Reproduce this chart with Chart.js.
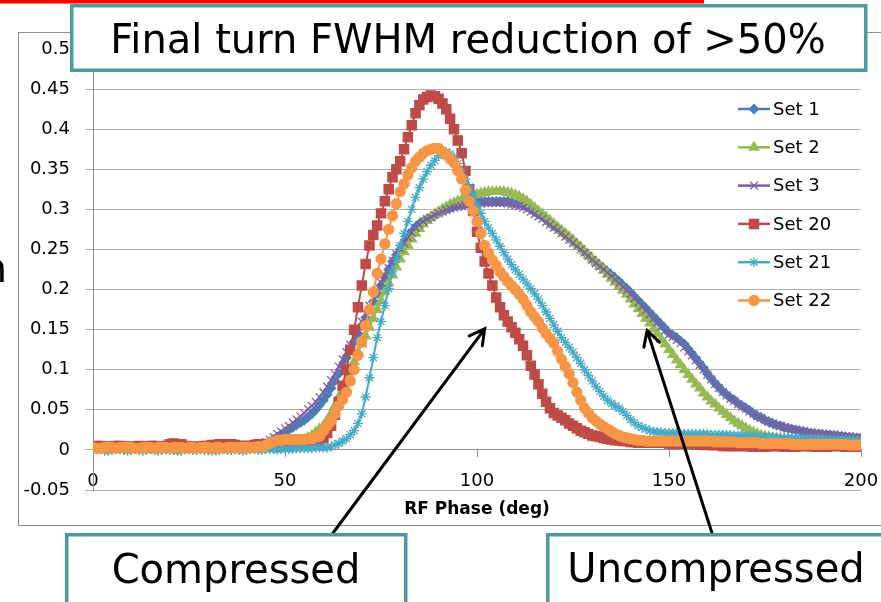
<!DOCTYPE html>
<html>
<head>
<meta charset="utf-8">
<title>RF Phase</title>
<script src="https://cdn.jsdelivr.net/npm/chart.js"></script>
<style>
  html, body { margin: 0; padding: 0; background: #fff; }
  canvas { display: block; }
</style>
</head>
<body>
<canvas id="phase__chart" width="881" height="602"></canvas>
<script>
// RF phase in degrees, one sample per degree
const phase = [
  0, 1, 2, 3, 4, 5, 6, 7, 8, 9,
  10, 11, 12, 13, 14, 15, 16, 17, 18, 19,
  20, 21, 22, 23, 24, 25, 26, 27, 28, 29,
  30, 31, 32, 33, 34, 35, 36, 37, 38, 39,
  40, 41, 42, 43, 44, 45, 46, 47, 48, 49,
  50, 51, 52, 53, 54, 55, 56, 57, 58, 59,
  60, 61, 62, 63, 64, 65, 66, 67, 68, 69,
  70, 71, 72, 73, 74, 75, 76, 77, 78, 79,
  80, 81, 82, 83, 84, 85, 86, 87, 88, 89,
  90, 91, 92, 93, 94, 95, 96, 97, 98, 99,
  100, 101, 102, 103, 104, 105, 106, 107, 108, 109,
  110, 111, 112, 113, 114, 115, 116, 117, 118, 119,
  120, 121, 122, 123, 124, 125, 126, 127, 128, 129,
  130, 131, 132, 133, 134, 135, 136, 137, 138, 139,
  140, 141, 142, 143, 144, 145, 146, 147, 148, 149,
  150, 151, 152, 153, 154, 155, 156, 157, 158, 159,
  160, 161, 162, 163, 164, 165, 166, 167, 168, 169,
  170, 171, 172, 173, 174, 175, 176, 177, 178, 179,
  180, 181, 182, 183, 184, 185, 186, 187, 188, 189,
  190, 191, 192, 193, 194, 195, 196, 197, 198, 199,
  200
]

const set1 = [
  0.002, 0.003, 0.003, 0.002, 0.001, 0.002, 0.003, 0.002, 0.002, 0.003,
  0.002, 0.002, 0.001, 0.002, 0.003, 0.002, 0.002, 0.003, 0.002, 0.002,
  0.002, 0.002, 0.001, 0.002, 0.003, 0.002, 0.002, 0.002, 0.003, 0.002,
  0.003, 0.002, 0.001, 0.002, 0.002, 0.003, 0.002, 0.002, 0.003, 0.003,
  0.003, 0.003, 0.004, 0.005, 0.006, 0.008, 0.010, 0.013, 0.016, 0.019,
  0.022, 0.025, 0.028, 0.031, 0.034, 0.037, 0.041, 0.045, 0.050, 0.056,
  0.062, 0.069, 0.077, 0.086, 0.095, 0.105, 0.115, 0.125, 0.135, 0.145,
  0.155, 0.165, 0.175, 0.185, 0.195, 0.205, 0.215, 0.225, 0.235, 0.243,
  0.250, 0.258, 0.265, 0.272, 0.278, 0.282, 0.285, 0.288, 0.290, 0.293,
  0.296, 0.298, 0.300, 0.302, 0.304, 0.305, 0.306, 0.307, 0.308, 0.309,
  0.309, 0.310, 0.310, 0.310, 0.310, 0.310, 0.310, 0.310, 0.310, 0.309,
  0.308, 0.307, 0.305, 0.303, 0.300, 0.297, 0.294, 0.291, 0.287, 0.283,
  0.279, 0.276, 0.272, 0.268, 0.264, 0.260, 0.256, 0.252, 0.247, 0.243,
  0.238, 0.234, 0.230, 0.226, 0.222, 0.218, 0.214, 0.210, 0.205, 0.201,
  0.196, 0.191, 0.186, 0.181, 0.176, 0.171, 0.166, 0.161, 0.156, 0.151,
  0.146, 0.143, 0.140, 0.136, 0.132, 0.126, 0.120, 0.114, 0.108, 0.102,
  0.095, 0.089, 0.083, 0.078, 0.073, 0.069, 0.065, 0.062, 0.058, 0.055,
  0.052, 0.049, 0.045, 0.042, 0.040, 0.037, 0.035, 0.033, 0.031, 0.030,
  0.028, 0.027, 0.026, 0.025, 0.024, 0.023, 0.022, 0.021, 0.020, 0.020,
  0.019, 0.019, 0.018, 0.018, 0.017, 0.017, 0.016, 0.016, 0.015, 0.015,
  0.014
]

const set2 = [
  0.002, 0.001, 0.002, 0.002, 0.001, 0.002, 0.002, 0.001, 0.002, 0.002,
  0.001, 0.002, 0.002, 0.001, 0.002, 0.002, 0.001, 0.002, 0.002, 0.001,
  0.001, 0.002, 0.002, 0.001, 0.002, 0.002, 0.001, 0.002, 0.002, 0.001,
  0.002, 0.002, 0.001, 0.002, 0.002, 0.001, 0.002, 0.002, 0.001, 0.001,
  0.002, 0.002, 0.002, 0.002, 0.003, 0.003, 0.003, 0.003, 0.004, 0.004,
  0.005, 0.006, 0.007, 0.008, 0.010, 0.012, 0.015, 0.018, 0.022, 0.026,
  0.030, 0.037, 0.045, 0.055, 0.066, 0.077, 0.088, 0.099, 0.110, 0.121,
  0.132, 0.142, 0.153, 0.164, 0.175, 0.186, 0.197, 0.208, 0.218, 0.228,
  0.238, 0.247, 0.255, 0.263, 0.270, 0.276, 0.282, 0.286, 0.290, 0.294,
  0.297, 0.300, 0.303, 0.306, 0.308, 0.310, 0.312, 0.314, 0.316, 0.318,
  0.319, 0.320, 0.321, 0.322, 0.322, 0.322, 0.322, 0.322, 0.321, 0.320,
  0.318, 0.316, 0.313, 0.310, 0.306, 0.302, 0.298, 0.294, 0.290, 0.286,
  0.282, 0.278, 0.274, 0.270, 0.266, 0.262, 0.257, 0.253, 0.248, 0.243,
  0.238, 0.234, 0.229, 0.224, 0.219, 0.214, 0.209, 0.204, 0.199, 0.194,
  0.188, 0.182, 0.176, 0.170, 0.164, 0.158, 0.151, 0.145, 0.138, 0.132,
  0.125, 0.119, 0.112, 0.106, 0.100, 0.094, 0.088, 0.082, 0.077, 0.071,
  0.066, 0.061, 0.057, 0.052, 0.048, 0.044, 0.040, 0.036, 0.033, 0.030,
  0.027, 0.024, 0.022, 0.020, 0.018, 0.017, 0.016, 0.015, 0.014, 0.014,
  0.013, 0.013, 0.012, 0.012, 0.012, 0.011, 0.011, 0.011, 0.011, 0.011,
  0.011, 0.011, 0.010, 0.010, 0.010, 0.010, 0.010, 0.010, 0.010, 0.010,
  0.010
]

const set3 = [
  0.001, 0.002, 0.002, 0.003, 0.002, 0.002, 0.001, 0.002, 0.003, 0.002,
  0.002, 0.003, 0.002, 0.002, 0.003, 0.002, 0.001, 0.002, 0.001, 0.002,
  0.003, 0.002, 0.002, 0.001, 0.001, 0.002, 0.003, 0.002, 0.002, 0.002,
  0.002, 0.001, 0.001, 0.002, 0.003, 0.003, 0.002, 0.002, 0.002, 0.002,
  0.003, 0.004, 0.005, 0.006, 0.008, 0.010, 0.013, 0.016, 0.020, 0.023,
  0.027, 0.030, 0.034, 0.038, 0.042, 0.046, 0.051, 0.055, 0.060, 0.066,
  0.072, 0.079, 0.087, 0.095, 0.104, 0.113, 0.122, 0.131, 0.141, 0.150,
  0.160, 0.170, 0.180, 0.190, 0.199, 0.209, 0.218, 0.227, 0.236, 0.244,
  0.251, 0.258, 0.265, 0.271, 0.277, 0.281, 0.285, 0.288, 0.290, 0.293,
  0.295, 0.297, 0.299, 0.301, 0.302, 0.303, 0.304, 0.305, 0.306, 0.306,
  0.307, 0.307, 0.308, 0.308, 0.308, 0.308, 0.308, 0.308, 0.307, 0.306,
  0.305, 0.304, 0.302, 0.300, 0.297, 0.294, 0.291, 0.288, 0.284, 0.281,
  0.277, 0.274, 0.270, 0.266, 0.262, 0.258, 0.254, 0.250, 0.246, 0.242,
  0.237, 0.233, 0.229, 0.225, 0.221, 0.217, 0.212, 0.208, 0.203, 0.199,
  0.194, 0.189, 0.184, 0.179, 0.174, 0.169, 0.164, 0.159, 0.154, 0.149,
  0.144, 0.141, 0.137, 0.133, 0.128, 0.123, 0.118, 0.112, 0.106, 0.100,
  0.094, 0.088, 0.082, 0.077, 0.072, 0.068, 0.064, 0.061, 0.057, 0.054,
  0.051, 0.048, 0.045, 0.042, 0.040, 0.037, 0.035, 0.033, 0.031, 0.030,
  0.028, 0.027, 0.026, 0.025, 0.024, 0.023, 0.022, 0.022, 0.021, 0.021,
  0.020, 0.020, 0.019, 0.019, 0.018, 0.018, 0.017, 0.017, 0.016, 0.016,
  0.015
]

const set20 = [
  0.004, 0.005, 0.005, 0.004, 0.004, 0.004, 0.005, 0.005, 0.004, 0.004,
  0.004, 0.004, 0.005, 0.004, 0.004, 0.005, 0.005, 0.004, 0.004, 0.005,
  0.007, 0.008, 0.007, 0.007, 0.005, 0.004, 0.004, 0.004, 0.004, 0.005,
  0.005, 0.006, 0.006, 0.007, 0.007, 0.007, 0.007, 0.006, 0.005, 0.005,
  0.005, 0.005, 0.006, 0.007, 0.007, 0.006, 0.006, 0.005, 0.005, 0.005,
  0.006, 0.006, 0.006, 0.006, 0.007, 0.007, 0.008, 0.008, 0.009, 0.010,
  0.015, 0.021, 0.030, 0.044, 0.060, 0.080, 0.100, 0.125, 0.150, 0.178,
  0.205, 0.232, 0.255, 0.268, 0.280, 0.295, 0.310, 0.325, 0.340, 0.350,
  0.360, 0.375, 0.390, 0.405, 0.420, 0.430, 0.437, 0.440, 0.442, 0.441,
  0.438, 0.432, 0.425, 0.413, 0.400, 0.386, 0.370, 0.348, 0.325, 0.298,
  0.272, 0.252, 0.235, 0.220, 0.205, 0.190, 0.178, 0.168, 0.160, 0.153,
  0.146, 0.138, 0.130, 0.118, 0.105, 0.094, 0.082, 0.070, 0.060, 0.052,
  0.046, 0.043, 0.040, 0.037, 0.033, 0.030, 0.027, 0.024, 0.022, 0.020,
  0.018, 0.017, 0.016, 0.015, 0.014, 0.013, 0.012, 0.012, 0.011, 0.011,
  0.010, 0.010, 0.009, 0.009, 0.009, 0.009, 0.009, 0.009, 0.009, 0.009,
  0.008, 0.008, 0.008, 0.008, 0.008, 0.008, 0.008, 0.007, 0.007, 0.007,
  0.006, 0.006, 0.006, 0.006, 0.005, 0.005, 0.005, 0.005, 0.005, 0.005,
  0.005, 0.005, 0.004, 0.004, 0.004, 0.004, 0.005, 0.005, 0.005, 0.005,
  0.004, 0.004, 0.004, 0.004, 0.005, 0.005, 0.005, 0.005, 0.004, 0.004,
  0.004, 0.004, 0.005, 0.005, 0.005, 0.005, 0.004, 0.004, 0.004, 0.004,
  0.004
]

const set21 = [
  0.000, 0.001, 0.001, -0.001, -0.001, 0.000, 0.001, 0.001, 0.000, -0.001,
  0.000, 0.001, 0.000, -0.001, 0.000, 0.001, 0.000, -0.001, 0.000, 0.001,
  0.000, 0.000, -0.001, -0.001, 0.001, 0.001, 0.000, 0.000, 0.001, 0.000,
  0.000, -0.001, -0.001, 0.000, 0.001, 0.000, 0.000, 0.001, 0.000, -0.001,
  0.000, 0.001, 0.001, 0.000, 0.000, 0.001, 0.001, 0.001, 0.000, 0.001,
  0.001, 0.001, 0.001, 0.002, 0.002, 0.002, 0.002, 0.002, 0.003, 0.003,
  0.003, 0.003, 0.004, 0.006, 0.008, 0.011, 0.014, 0.019, 0.024, 0.033,
  0.045, 0.066, 0.090, 0.115, 0.140, 0.160, 0.180, 0.201, 0.222, 0.238,
  0.255, 0.270, 0.285, 0.300, 0.315, 0.327, 0.338, 0.347, 0.355, 0.361,
  0.367, 0.370, 0.372, 0.369, 0.365, 0.357, 0.348, 0.338, 0.328, 0.317,
  0.305, 0.295, 0.285, 0.277, 0.270, 0.262, 0.254, 0.246, 0.238, 0.231,
  0.225, 0.219, 0.213, 0.207, 0.201, 0.195, 0.188, 0.180, 0.172, 0.164,
  0.156, 0.148, 0.140, 0.134, 0.128, 0.122, 0.115, 0.108, 0.100, 0.093,
  0.086, 0.079, 0.073, 0.067, 0.062, 0.058, 0.055, 0.052, 0.048, 0.043,
  0.038, 0.034, 0.030, 0.028, 0.026, 0.024, 0.023, 0.022, 0.022, 0.021,
  0.021, 0.021, 0.021, 0.020, 0.020, 0.020, 0.020, 0.020, 0.020, 0.020,
  0.020, 0.019, 0.019, 0.019, 0.019, 0.019, 0.018, 0.018, 0.018, 0.018,
  0.018, 0.017, 0.017, 0.017, 0.016, 0.016, 0.016, 0.016, 0.015, 0.015,
  0.015, 0.015, 0.015, 0.015, 0.015, 0.014, 0.014, 0.014, 0.014, 0.014,
  0.014, 0.013, 0.013, 0.013, 0.013, 0.013, 0.013, 0.012, 0.012, 0.012,
  0.012
]

const set22 = [
  0.003, 0.002, 0.002, 0.003, 0.003, 0.003, 0.002, 0.003, 0.003, 0.003,
  0.003, 0.002, 0.002, 0.003, 0.003, 0.003, 0.002, 0.003, 0.003, 0.003,
  0.002, 0.003, 0.003, 0.003, 0.002, 0.003, 0.003, 0.002, 0.003, 0.003,
  0.003, 0.002, 0.003, 0.003, 0.002, 0.003, 0.003, 0.003, 0.003, 0.003,
  0.003, 0.003, 0.003, 0.004, 0.004, 0.006, 0.008, 0.010, 0.012, 0.012,
  0.013, 0.013, 0.013, 0.013, 0.013, 0.013, 0.014, 0.014, 0.016, 0.017,
  0.024, 0.030, 0.036, 0.045, 0.055, 0.063, 0.072, 0.086, 0.100, 0.118,
  0.135, 0.155, 0.175, 0.197, 0.220, 0.238, 0.257, 0.275, 0.292, 0.307,
  0.322, 0.332, 0.343, 0.352, 0.360, 0.365, 0.370, 0.373, 0.375, 0.376,
  0.376, 0.372, 0.368, 0.363, 0.358, 0.348, 0.338, 0.324, 0.310, 0.298,
  0.285, 0.270, 0.255, 0.246, 0.237, 0.230, 0.222, 0.216, 0.210, 0.205,
  0.200, 0.194, 0.188, 0.180, 0.172, 0.166, 0.160, 0.152, 0.145, 0.139,
  0.133, 0.123, 0.113, 0.104, 0.095, 0.084, 0.072, 0.062, 0.052, 0.046,
  0.040, 0.036, 0.032, 0.029, 0.026, 0.023, 0.020, 0.018, 0.016, 0.015,
  0.014, 0.013, 0.012, 0.012, 0.011, 0.011, 0.011, 0.011, 0.011, 0.011,
  0.011, 0.011, 0.011, 0.011, 0.011, 0.011, 0.011, 0.011, 0.011, 0.011,
  0.011, 0.011, 0.010, 0.010, 0.010, 0.010, 0.010, 0.010, 0.009, 0.009,
  0.009, 0.009, 0.009, 0.009, 0.008, 0.008, 0.008, 0.008, 0.008, 0.008,
  0.008, 0.008, 0.007, 0.007, 0.007, 0.007, 0.007, 0.007, 0.007, 0.007,
  0.007, 0.007, 0.007, 0.007, 0.007, 0.007, 0.007, 0.006, 0.006, 0.006,
  0.006
]

const seriesNames = ['Set 1', 'Set 2', 'Set 3', 'Set 20', 'Set 21', 'Set 22']
const xTicks = [0, 50, 100, 150, 200]
const yTicks = [-0.05, 0, 0.05, 0.1, 0.15, 0.2, 0.25, 0.3, 0.35, 0.4, 0.45, 0.5]

const FONT = 'DejaVu Sans'
const TEAL = '#4a9aa0'

Chart.defaults.font.family = FONT
Chart.defaults.color = '#000'

function toPoints(values) {
    return values.map((v, i) => ({ x: phase[i], y: v }))
}

function makeSeries(label, values, color, style, radius, order) {
    return {
        label: label,
        data: toPoints(values),
        borderColor: color,
        borderWidth: 2,
        backgroundColor: color,
        pointStyle: style,
        pointRadius: radius,
        pointBackgroundColor: color,
        pointBorderColor: color,
        pointBorderWidth: 1.3,
        tension: 0,
        order: order // Excel paints the last series on top
    }
}

// frame, slide red bar and the stray letter from the slide text on the left
const slideBackground = {
    id: 'slideBackground',
    beforeDraw(chart) {
        const ctx = chart.ctx
        ctx.save()
        ctx.fillStyle = '#fff'
        ctx.fillRect(0, 0, chart.width, chart.height)
        ctx.fillStyle = '#ff0000'
        ctx.fillRect(0, 0, 704, 3.5)
        ctx.strokeStyle = '#8c8c8c'
        ctx.lineWidth = 1
        ctx.strokeRect(18.5, 32.5, 900, 493)
        ctx.fillStyle = '#000'
        ctx.font = '40px ' + FONT
        ctx.textAlign = 'right'
        ctx.textBaseline = 'alphabetic'
        ctx.fillText('n', 7, 282)
        ctx.restore()
    }
}

// legend inside the plot, a line with the marker in the middle
const insideLegend = {
    id: 'insideLegend',
    afterDatasetsDraw(chart) {
        const ctx = chart.ctx
        const x0 = chart.chartArea.right - 123
        chart.data.datasets.forEach((ds, i) => {
            const y = 109 + i * 38.3
            ctx.save()
            ctx.strokeStyle = ds.borderColor
            ctx.lineWidth = 2.5
            ctx.beginPath()
            ctx.moveTo(x0, y)
            ctx.lineTo(x0 + 32, y)
            ctx.stroke()
            ctx.fillStyle = ds.pointBackgroundColor
            ctx.strokeStyle = ds.pointBorderColor
            ctx.lineWidth = ds.pointBorderWidth
            Chart.helpers.drawPoint(ctx, {
                pointStyle: ds.pointStyle,
                radius: ds.pointRadius,
                rotation: 0,
                borderWidth: ds.pointBorderWidth
            }, x0 + 16, y)
            ctx.fillStyle = '#000'
            ctx.font = '18px ' + FONT
            ctx.textAlign = 'left'
            ctx.textBaseline = 'middle'
            ctx.fillText(ds.label, x0 + 35, y + 1)
            ctx.restore()
        })
    }
}

function drawCallout(ctx, x, y, w, h, text, tx, ty) {
    ctx.fillStyle = '#fff'
    ctx.fillRect(x, y, w, h)
    ctx.strokeStyle = TEAL
    ctx.lineWidth = 3.5
    ctx.strokeRect(x, y, w, h)
    ctx.fillStyle = '#000'
    ctx.font = '40px ' + FONT
    ctx.textAlign = 'center'
    ctx.textBaseline = 'alphabetic'
    ctx.fillText(text, tx, ty)
}

function drawArrow(ctx, fx, fy, tx, ty) {
    const ang = Math.atan2(ty - fy, tx - fx)
    const head = 17
    ctx.strokeStyle = '#000'
    ctx.lineWidth = 3
    ctx.lineCap = 'round'
    ctx.beginPath()
    ctx.moveTo(fx, fy)
    ctx.lineTo(tx, ty)
    ctx.moveTo(tx - head * Math.cos(ang - 0.5), ty - head * Math.sin(ang - 0.5))
    ctx.lineTo(tx, ty)
    ctx.lineTo(tx - head * Math.cos(ang + 0.5), ty - head * Math.sin(ang + 0.5))
    ctx.stroke()
}

// axis title, arrows and the text boxes over the chart
const annotations = {
    id: 'annotations',
    afterDraw(chart) {
        const ctx = chart.ctx
        const xs = chart.scales.x
        const ys = chart.scales.y
        const area = chart.chartArea
        ctx.save()
        ctx.fillStyle = '#000'
        ctx.font = 'bold 17px ' + FONT
        ctx.textAlign = 'center'
        ctx.textBaseline = 'middle'
        ctx.fillText('RF Phase (deg)', (area.left + area.right) / 2, ys.getPixelForValue(-0.05) + 20)

        drawArrow(ctx, 333, 533, xs.getPixelForValue(102), ys.getPixelForValue(0.151))
        drawArrow(ctx, 712, 533, xs.getPixelForValue(144.3), ys.getPixelForValue(0.149))

        drawCallout(ctx, 71.75, 5.75, 794, 64.5, 'Final turn FWHM reduction of >50%', 468, 53)
        drawCallout(ctx, 66.75, 534.75, 339, 100, 'Compressed', 236, 583)
        drawCallout(ctx, 547.75, 534.75, 400, 100, 'Uncompressed', 716, 582)
        ctx.restore()
    }
}

const chartEl = document.getElementById('phase__chart')

new Chart(chartEl, {
    type: 'line',
    data: {
        datasets: [
            makeSeries(seriesNames[0], set1, '#4a7ebb', 'rectRot', 4.5, 5),
            makeSeries(seriesNames[1], set2, '#98b954', 'triangle', 5.5, 4),
            makeSeries(seriesNames[2], set3, '#7d60a0', 'crossRot', 5.5, 3),
            makeSeries(seriesNames[3], set20, '#be4b48', 'rect', 6.5, 2),
            makeSeries(seriesNames[4], set21, '#46aac5', 'star', 5, 1),
            makeSeries(seriesNames[5], set22, '#f79646', 'circle', 5, 0)
        ]
    },
    plugins: [slideBackground, insideLegend, annotations],
    options: {
        responsive: false,
        animation: false,
        devicePixelRatio: 1,
        layout: {
            padding: { left: 0, right: 20, top: 49, bottom: 112 }
        },
        plugins: {
            legend: { display: false },
            tooltip: { enabled: false }
        },
        scales: {
            x: {
                type: 'linear',
                position: { y: 0 }, // axis crosses at zero like the sheet chart
                min: 0,
                max: 200,
                afterBuildTicks: (scale) => { scale.ticks = xTicks.map(v => ({ value: v })) },
                afterFit: (scale) => {
                    scale.paddingLeft = 0
                    scale.paddingRight = 0
                },
                border: { display: true, color: '#8c8c8c', width: 1 },
                grid: {
                    drawOnChartArea: false,
                    color: '#8c8c8c',
                    tickLength: 7
                },
                ticks: {
                    padding: 14,
                    maxRotation: 0,
                    color: '#000',
                    font: { size: 18 }
                }
            },
            y: {
                min: -0.05,
                max: 0.5,
                afterBuildTicks: (scale) => { scale.ticks = yTicks.map(v => ({ value: v })) },
                afterFit: (scale) => { scale.width = 93 },
                border: { display: true, color: '#8c8c8c', width: 1 },
                grid: {
                    color: '#b0b0b0',
                    tickLength: 8
                },
                ticks: {
                    padding: 15,
                    color: '#000',
                    font: { size: 18 },
                    callback: (v) => String(+v.toFixed(2))
                }
            }
        }
    }
});
</script>
</body>
</html>
